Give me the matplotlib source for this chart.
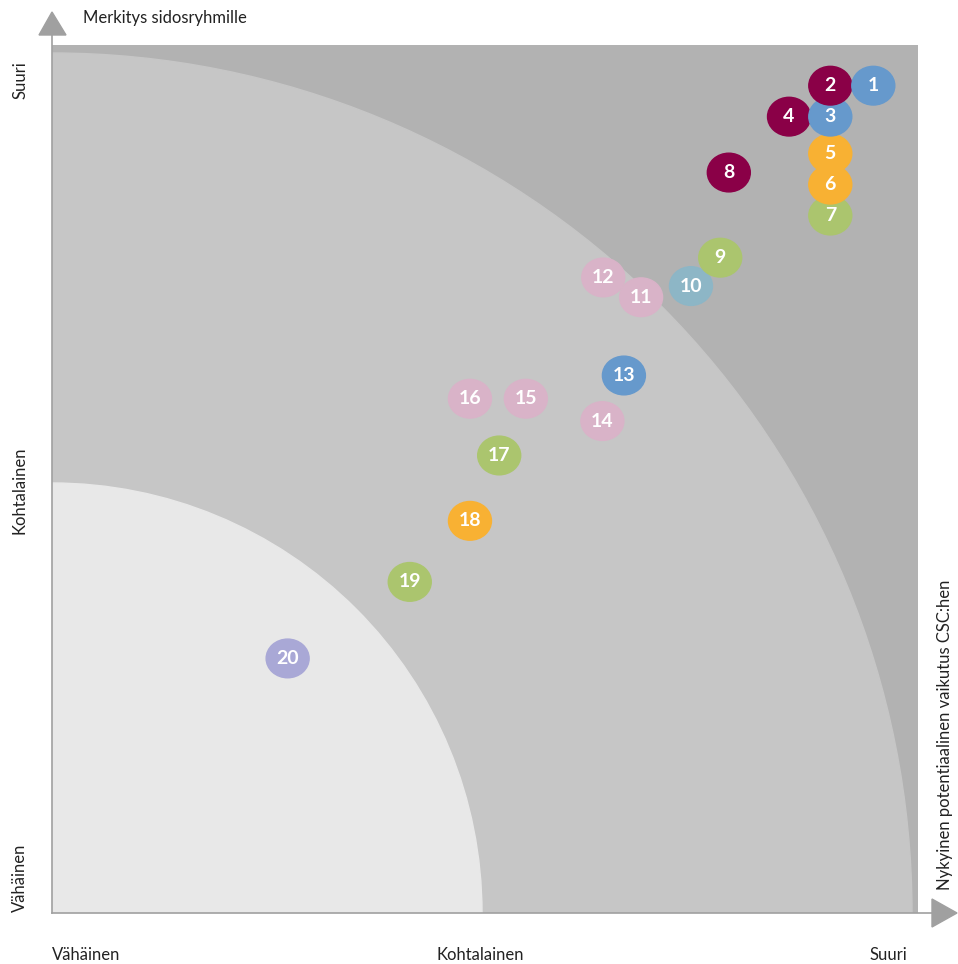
import matplotlib
matplotlib.use("Agg")
import matplotlib.pyplot as plt
from matplotlib.patches import Ellipse, Wedge, Rectangle, Polygon

plt.rcParams['font.family'] = ['Lato', 'DejaVu Sans']

# bubble numbers and positions on a 0-10 scale (x = vaikutus, y = merkitys)
ids = list(range(1, 21))
x_score = [9.55, 9.05, 9.05, 8.57, 9.05, 9.05, 9.05, 7.87, 7.77, 7.43,
           6.85, 6.41, 6.65, 6.40, 5.51, 4.86, 5.20, 4.86, 4.16, 2.74]
y_score = [9.62, 9.62, 9.26, 9.26, 8.83, 8.47, 8.11, 8.61, 7.62, 7.29,
           7.16, 7.39, 6.25, 5.72, 5.98, 5.98, 5.32, 4.56, 3.85, 2.96]
groups = ['blue', 'maroon', 'blue', 'maroon', 'orange', 'orange', 'green',
          'maroon', 'green', 'teal', 'pink', 'pink', 'blue', 'pink', 'pink',
          'pink', 'green', 'orange', 'green', 'lavender']

colors = {
    'blue': '#6699cc',
    'maroon': '#8a0047',
    'orange': '#f8b133',
    'green': '#abc56e',
    'teal': '#8db6c6',
    'pink': '#d9b3c8',
    'lavender': '#a9a8d6',
}

x_ticks = ['Vähäinen', 'Kohtalainen', 'Suuri']
y_ticks = ['Vähäinen', 'Kohtalainen', 'Suuri']

W, H = 958, 964
fig = plt.figure(figsize=(W / 100, H / 100), dpi=100)
ax = fig.add_axes([52 / W, (H - 913) / H, 866 / W, 868 / H])
ax.set_xlim(0, 866 / 86)
ax.set_ylim(0, 868 / 86)
ax.axis('off')

# background zones
ax.add_patch(Rectangle((0, 0), 866 / 86, 868 / 86, color='#b2b2b2', zorder=0))
ax.add_patch(Wedge((0, 0), 10, 0, 90, color='#c6c6c6', zorder=1))
ax.add_patch(Wedge((0, 0), 5, 0, 90, color='#e8e8e8', zorder=2))

# bubbles, last number drawn first
for i in reversed(range(len(ids))):
    ax.add_patch(Ellipse((x_score[i], y_score[i]), 0.5, 0.45,
                         color=colors[groups[i]], zorder=3))
    ax.text(x_score[i], y_score[i], str(ids[i]), color='white',
            fontsize=14, fontweight='bold', ha='center', va='center',
            zorder=4)

# axis lines with arrow heads (figure pixel coords)
def px(x, y):
    return (x / W, 1 - y / H)

axis_col = '#a0a0a0'
fig.add_artist(plt.Line2D([52 / W, 52 / W], [1 - 913 / H, 1 - 35 / H],
                          color=axis_col, lw=1.2))
fig.add_artist(plt.Line2D([52 / W, 933 / W], [1 - 913 / H, 1 - 913 / H],
                          color=axis_col, lw=1.2))
fig.add_artist(Polygon([px(52, 12), px(39, 35), px(66, 35)],
                       closed=True, color=axis_col, transform=fig.transFigure))
fig.add_artist(Polygon([px(957, 913), px(932, 899), px(932, 927)],
                       closed=True, color=axis_col, transform=fig.transFigure))

# titles and level labels
fig.text(*px(83, 18), 'Merkitys sidosryhmille', fontsize=12, ha='left',
         va='center', color='#222222')
fig.text(*px(945, 735), 'Nykyinen potentiaalinen vaikutus CSC:hen',
         fontsize=12, rotation=90, ha='center', va='center', color='#222222')

fig.text(*px(52, 955), x_ticks[0], fontsize=12, ha='left', va='center',
         color='#222222')
fig.text(*px(480, 955), x_ticks[1], fontsize=12, ha='center', va='center',
         color='#222222')
fig.text(*px(907, 955), x_ticks[2], fontsize=12, ha='right', va='center',
         color='#222222')

fig.text(*px(20, 878), y_ticks[0], fontsize=12, rotation=90, ha='center',
         va='center', color='#222222')
fig.text(*px(20, 490), y_ticks[1], fontsize=12, rotation=90, ha='center',
         va='center', color='#222222')
fig.text(*px(20, 80), y_ticks[2], fontsize=12, rotation=90, ha='center',
         va='center', color='#222222')

fig.savefig('out.png', dpi=100)
